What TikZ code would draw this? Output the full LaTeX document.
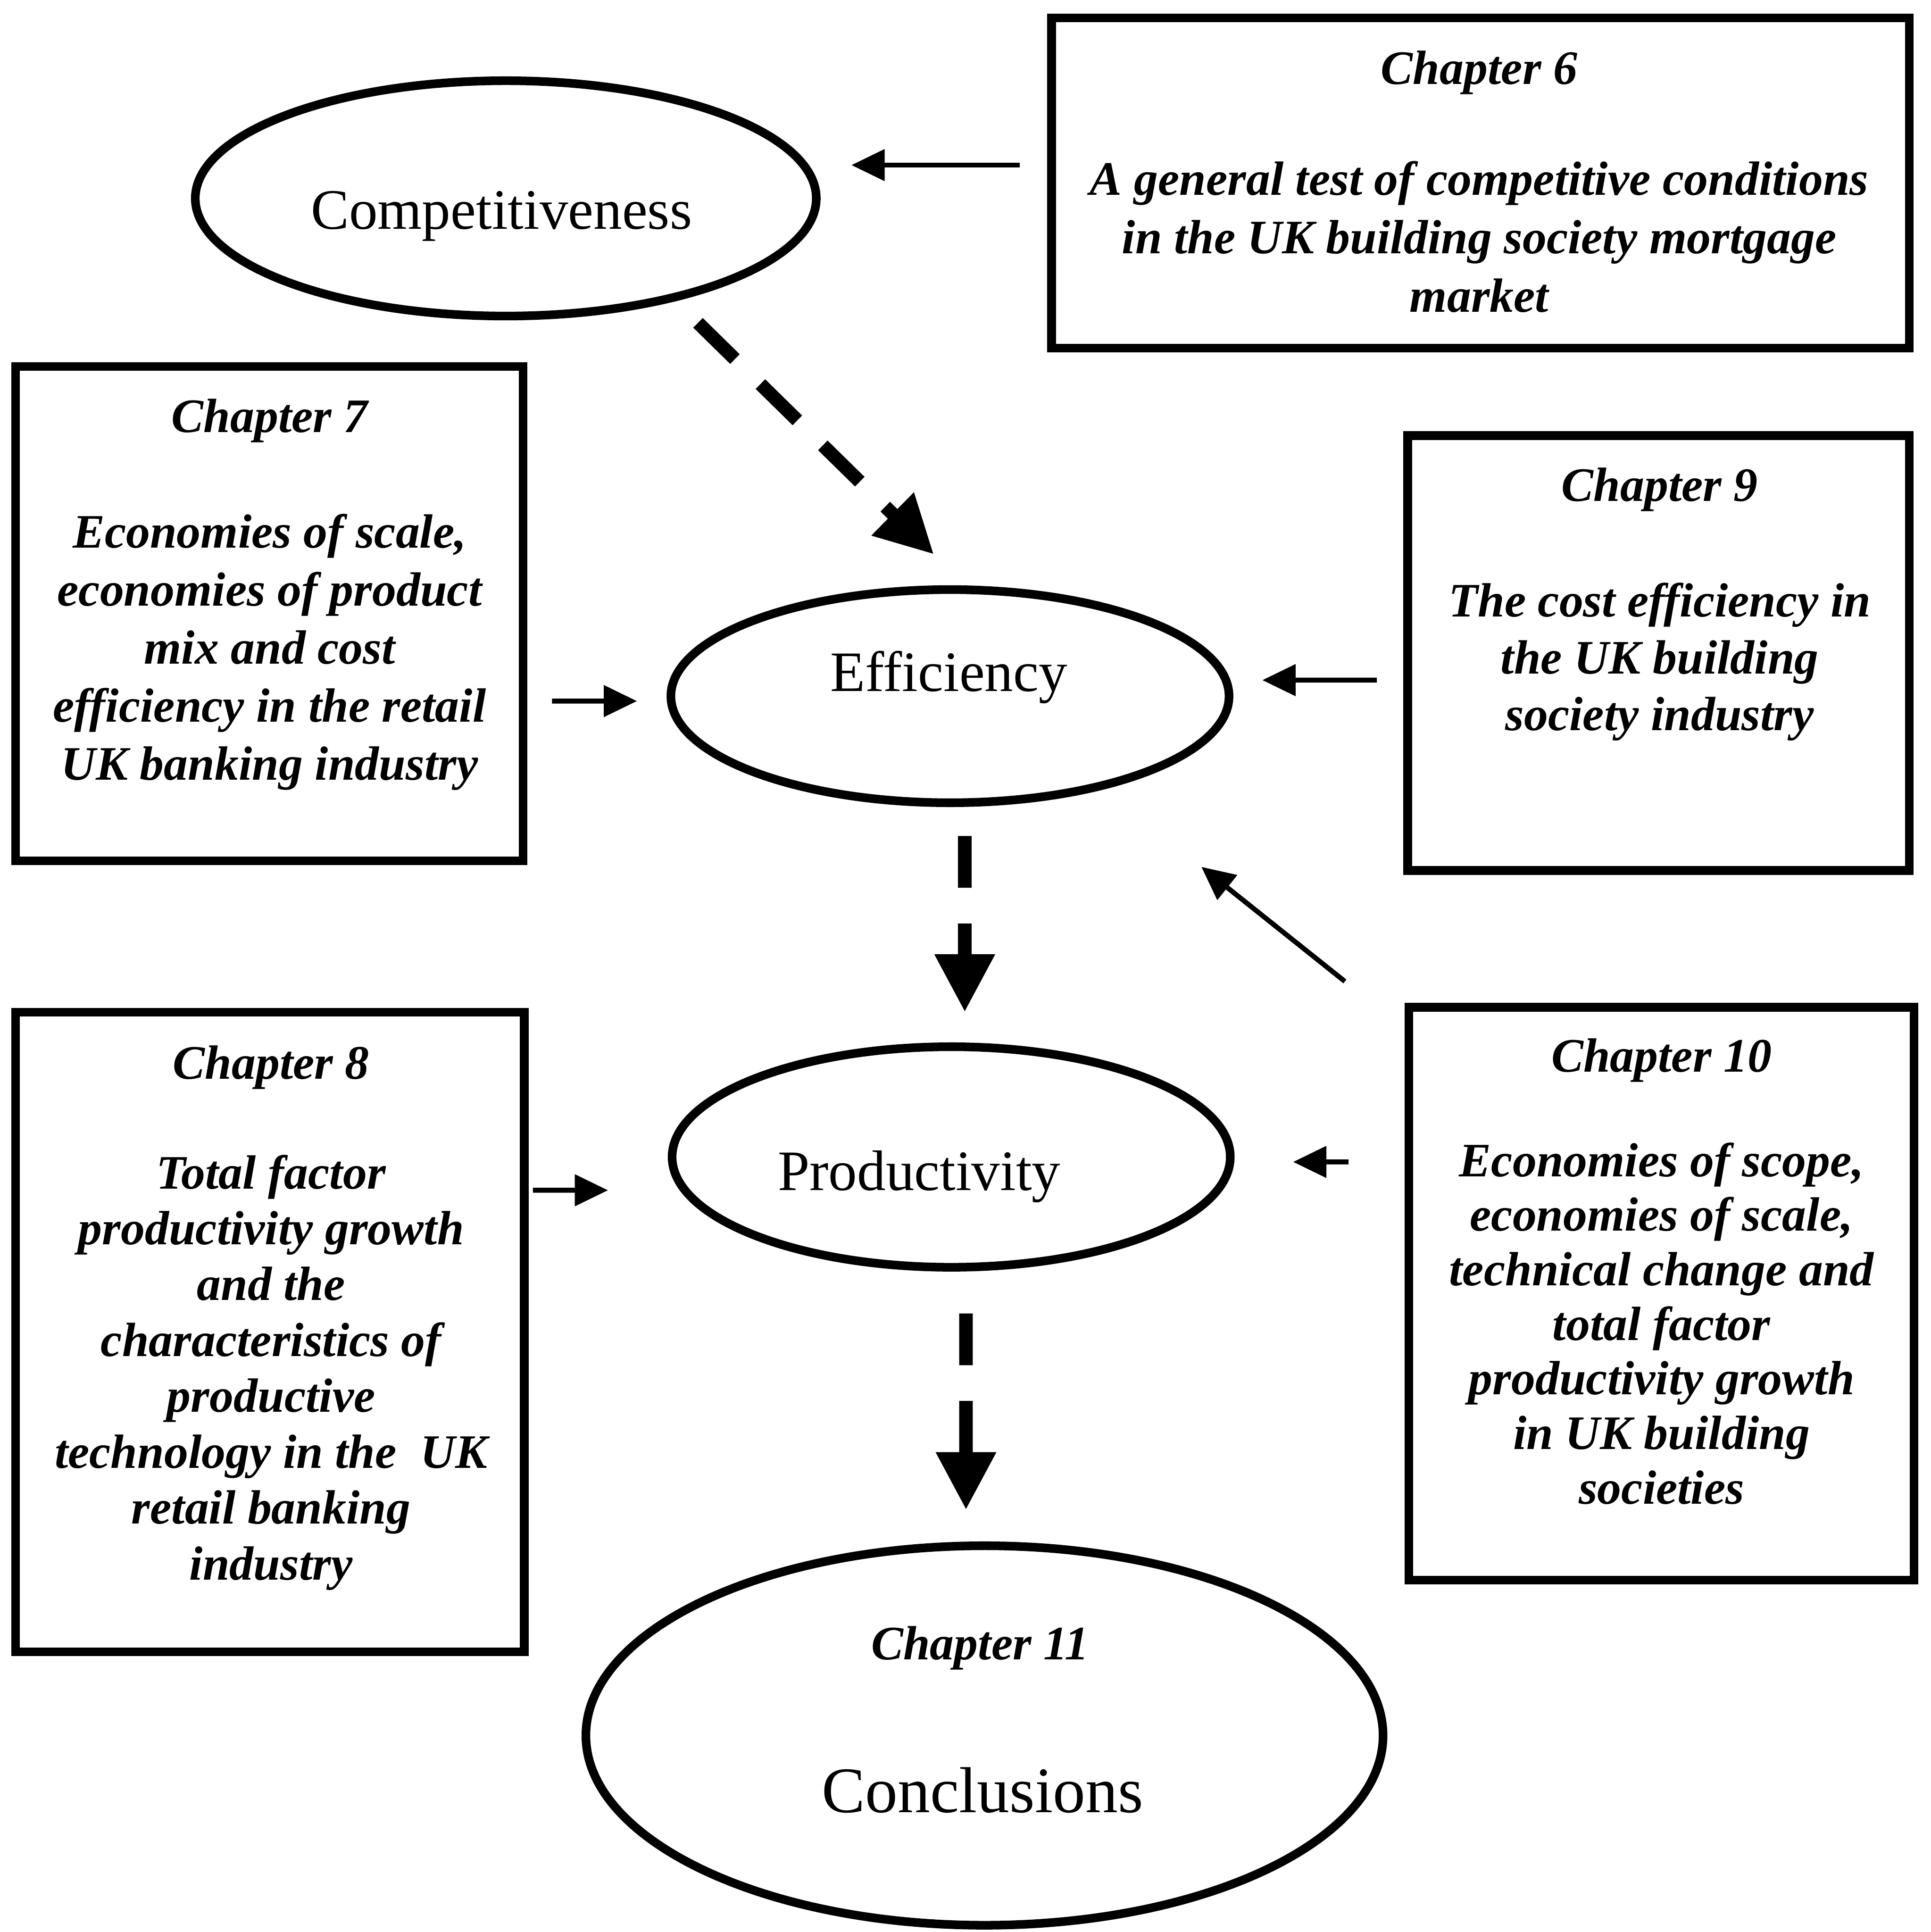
\documentclass[tikz,border=0pt]{standalone}
\usepackage{fontspec}
\setmainfont{Liberation Serif}
\usetikzlibrary{shapes.geometric,arrows.meta,calc}

\begin{document}
\begin{tikzpicture}[
    chapbox/.style={draw, line width=0.07cm, rectangle, inner sep=0pt},
    oval/.style={draw, line width=0.07cm, ellipse, inner sep=0pt},
    chaptext/.style={font=\fontsize{11.1}{#1}\selectfont\bfseries\itshape, align=center, inner sep=0pt, anchor=north},
    chaptext/.default=13.2,
    ovaltext/.style={font=\fontsize{13.2}{16}\selectfont, inner sep=0pt, anchor=base},
    thinarrow/.style={line width=0.04cm, -{Triangle[length=0.27cm,width=0.25cm]}},
    dasharrow/.style={line width=0.11cm, dash pattern=on 0.42cm off 0.29cm, -{Triangle[length=0.47cm,width=0.46cm]}}
]
    \useasboundingbox (0,0) rectangle (15.67,-15.68);

    \node[oval, minimum width=5.04cm, minimum height=1.91cm] (comp) at (4.105,-1.61) {};
    \node[ovaltext] (complbl) at (4.07,-1.86) {Competitiveness};
    \node[oval, minimum width=4.53cm, minimum height=1.73cm] (eff) at (7.71,-5.65) {};
    \node[ovaltext] (efflbl) at (7.70,-5.61) {Efficiency};
    \node[oval, minimum width=4.53cm, minimum height=1.79cm] (prod) at (7.72,-9.39) {};
    \node[ovaltext] (prodlbl) at (7.46,-9.66) {Productivity};
    \node[oval, minimum width=6.47cm, minimum height=3.08cm] (concl) at (7.99,-14.085) {};
    \node[chaptext, anchor=base] (concltop) at (7.955,-13.47) {Chapter 11};
    \node[ovaltext, font=\fontsize{15}{18}\selectfont] (concllbl) at (7.975,-14.71) {Conclusions};

    \node[chapbox, minimum width=6.96cm, minimum height=2.68cm] (ch6) at (12.015,-1.485) {};
    \node[chaptext=13.5] (ch6txt) at (12.005,-0.405) {Chapter 6\\[12.1pt]A general test of competitive conditions\\in the UK building society mortgage\\market};
    \node[chapbox, minimum width=4.12cm, minimum height=4.01cm] (ch7) at (2.185,-4.98) {};
    \node[chaptext=13.4] (ch7txt) at (2.188,-3.23) {Chapter 7\\[13.3pt]Economies of scale,\\economies of product\\mix and cost\\efficiency in the retail\\UK banking industry};
    \node[chapbox, minimum width=4.07cm, minimum height=3.53cm] (ch9) at (13.46,-5.30) {};
    \node[chaptext=13.1] (ch9txt) at (13.47,-3.79) {Chapter 9\\[13.6pt]The cost efficiency in\\the UK building\\society industry};
    \node[chapbox, minimum width=4.13cm, minimum height=5.19cm] (ch8) at (2.19,-10.81) {};
    \node[chaptext=12.9] (ch8txt) at (2.20,-8.48) {Chapter 8\\[12.4pt]Total factor\\productivity growth\\and the\\characteristics of\\productive\\technology in the \ UK\\retail banking\\industry};
    \node[chapbox, minimum width=4.10cm, minimum height=4.65cm] (ch10) at (13.485,-10.50) {};
    \node[chaptext=12.6] (ch10txt) at (13.485,-8.42) {Chapter 10\\[11.6pt]Economies of scope,\\economies of scale,\\technical change and\\total factor\\productivity growth\\in UK building\\societies};

    \draw[thinarrow] ($(ch6.west)+(-.225,.145)$) -- ($(comp.east |- ch6.west)+(.25,.145)$);
    \draw[dasharrow] ([xshift=15.6mm,yshift=-.2mm]comp.south) -- ([xshift=-1.3mm,yshift=2.5mm]eff.north);
    \draw[thinarrow] ($(ch7.east |- eff.west)+(.2,-.04)$) -- ([xshift=-2.4mm,yshift=-.4mm]eff.west);
    \draw[thinarrow] ($(ch9.west |- eff.east)+(-.215,.13)$) -- ([xshift=2.35mm,yshift=1.3mm]eff.east);
    \draw[dasharrow] ([xshift=1.2mm,yshift=-2.35mm]eff.south) -- ([xshift=1.1mm,yshift=2.45mm]prod.north);
    \draw[thinarrow] ([xshift=-4.85mm,yshift=1.75mm]ch10.north west) -- ([xshift=2.04cm,yshift=-4.85mm]eff.south);
    \draw[thinarrow] ($(ch10.west |- prod.east)+(-.455,-.04)$) -- ([xshift=4.75mm,yshift=-.4mm]prod.east);
    \draw[thinarrow] ($(ch8.east |- prod.west)+(.035,-.27)$) -- ([xshift=-4.85mm,yshift=-2.7mm]prod.west);
    \draw[dasharrow] ([xshift=1.2mm,yshift=-3.4mm]prod.south) -- ([xshift=-1.5mm,yshift=2.55mm]concl.north);
\end{tikzpicture}
\end{document}
